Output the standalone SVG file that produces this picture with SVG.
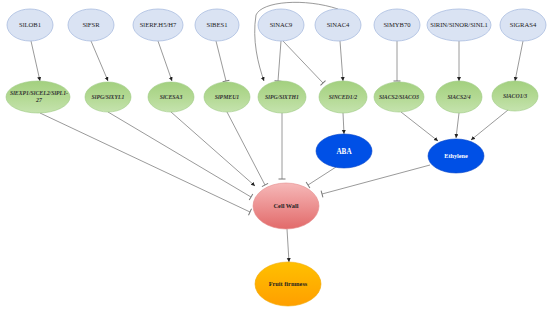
<svg xmlns="http://www.w3.org/2000/svg" width="550" height="310" viewBox="0 0 550 310">
<defs>
<linearGradient id="gGreen" x1="0" y1="0" x2="0" y2="1">
<stop offset="0" stop-color="#a3d07f"/><stop offset="0.5" stop-color="#b3d993"/><stop offset="1" stop-color="#c5e3ae"/>
</linearGradient>
<linearGradient id="gRed" x1="0" y1="0" x2="0" y2="1">
<stop offset="0" stop-color="#f6b8b8"/><stop offset="1" stop-color="#e26a6a"/>
</linearGradient>
<linearGradient id="gOrange" x1="0" y1="0" x2="0" y2="1">
<stop offset="0" stop-color="#ffc000"/><stop offset="1" stop-color="#ff9f00"/>
</linearGradient>
<marker id="arr" markerUnits="userSpaceOnUse" markerWidth="6" markerHeight="6" refX="4" refY="2" orient="auto">
<path d="M0,0 L4,2 L0,4 Z" fill="#222"/>
</marker>
<marker id="tbar" markerUnits="userSpaceOnUse" markerWidth="8" markerHeight="8" refX="1" refY="4" orient="auto">
<path d="M1,0.5 L1,7.5" stroke="#777" stroke-width="1" fill="none"/>
</marker>
</defs>
<style>
.top ellipse{fill:#dae3f3;stroke:#a9bde0;stroke-width:0.8}
.top text{font-family:"Liberation Serif",serif;font-size:6.6px;fill:#222;text-anchor:middle}
.gene ellipse{fill:url(#gGreen);stroke:#9cc982;stroke-width:0.6}
.gene text{font-family:"Liberation Serif",serif;font-size:5.8px;font-style:italic;font-weight:bold;fill:#333;text-anchor:middle}
.hor ellipse{fill:#0050e6;stroke:#0a46c8;stroke-width:0.6}
.hor text{font-family:"Liberation Serif",serif;fill:#fff;text-anchor:middle;font-weight:bold}
.out text{font-family:"Liberation Serif",serif;font-size:6.3px;fill:#222;text-anchor:middle;font-weight:bold}
#connectors path{fill:none;stroke:#808080;stroke-width:0.8}
.a{marker-end:url(#arr)}
.t{marker-end:url(#tbar)}
</style>

<g id="connectors">
<path class="a" d="M31,41 L40,81"/>
<path class="a" d="M91,41 L108,81"/>
<path class="a" d="M158,41 L172,81"/>
<path class="t" d="M216,41 L226,81"/>
<path class="t" d="M281,41 L278,81"/>
<path class="t" d="M283,41 L323,83"/>
<path class="a" d="M340,41 L343,81"/>
<path class="a" d="M338,9 C305,-2 262,1 256,15 C252,40 258,64 264,81"/>
<path class="t" d="M397,41 L397,81"/>
<path class="a" d="M459,41 L459,81"/>
<path class="a" d="M523,41 L515,81"/>
<path class="t" d="M40,113 L250,212"/>
<path class="t" d="M108,112 L251,197"/>
<path class="a" d="M171,112 L255,186"/>
<path class="t" d="M227,112 L265,185"/>
<path class="t" d="M282,113 L282,179"/>
<path class="a" d="M343,113 L344,134"/>
<path class="a" d="M401,112 L438,141"/>
<path class="a" d="M459,113 L456,138"/>
<path class="a" d="M508,110 L471,140"/>
<path class="t" d="M336,167 L308,185"/>
<path class="t" d="M430,165 L322,194"/>
<path class="a" d="M287,229 L289,262"/>
</g>

<g id="n-sllob1" class="top"><ellipse cx="30" cy="25" rx="23" ry="16"/><text x="30" y="27">SlLOB1</text></g>
<g id="n-slfsr" class="top"><ellipse cx="91" cy="25" rx="23" ry="16"/><text x="91" y="27">SlFSR</text></g>
<g id="n-slerf" class="top"><ellipse cx="158" cy="25" rx="25" ry="16"/><text x="158" y="27">SlERF.H5/H7</text></g>
<g id="n-slbes1" class="top"><ellipse cx="217" cy="25" rx="22" ry="16"/><text x="217" y="27">SlBES1</text></g>
<g id="n-slnac9" class="top"><ellipse cx="281" cy="25" rx="23" ry="16"/><text x="281" y="27">SlNAC9</text></g>
<g id="n-slnac4" class="top"><ellipse cx="338" cy="25" rx="23" ry="16"/><text x="338" y="27">SlNAC4</text></g>
<g id="n-slmyb70" class="top"><ellipse cx="397" cy="25" rx="23" ry="16"/><text x="397" y="27">SlMYB70</text></g>
<g id="n-slrin" class="top"><ellipse cx="459" cy="25" rx="32" ry="16"/><text x="459" y="27">SlRIN/SlNOR/SlNL1</text></g>
<g id="n-slgras4" class="top"><ellipse cx="523" cy="25" rx="23" ry="16"/><text x="523" y="27">SlGRAS4</text></g>

<g id="n-slexp1" class="gene"><ellipse cx="38" cy="97" rx="32" ry="16"/><text x="39" y="95">SlEXP1/SlCEL2/SlPL1-</text><text x="39" y="101.5">27</text></g>
<g id="n-slpgxyl1" class="gene"><ellipse cx="108" cy="97" rx="23" ry="15"/><text x="108" y="99">SlPG/SlXYL1</text></g>
<g id="n-slcesa3" class="gene"><ellipse cx="171" cy="97" rx="23" ry="15"/><text x="171" y="99">SlCESA3</text></g>
<g id="n-slpmeu1" class="gene"><ellipse cx="227" cy="97" rx="23" ry="15"/><text x="227" y="99">SlPMEU1</text></g>
<g id="n-slpgxth1" class="gene"><ellipse cx="282" cy="97" rx="24" ry="16"/><text x="282" y="99">SlPG/SlXTH1</text></g>
<g id="n-slnced" class="gene"><ellipse cx="343" cy="97" rx="24" ry="16"/><text x="343" y="99">SlNCED1/2</text></g>
<g id="n-slacs2aco3" class="gene"><ellipse cx="399" cy="97" rx="25" ry="15"/><text x="399" y="99">SlACS2/SlACO3</text></g>
<g id="n-slacs24" class="gene"><ellipse cx="459" cy="97" rx="23" ry="16"/><text x="459" y="99">SlACS2/4</text></g>
<g id="n-slaco13" class="gene"><ellipse cx="515" cy="96" rx="23" ry="15"/><text x="515" y="98">SlACO1/3</text></g>

<g id="n-aba" class="hor"><ellipse cx="344" cy="151" rx="28" ry="17"/><text x="344" y="153.5" font-size="7.2">ABA</text></g>
<g id="n-ethylene" class="hor"><ellipse cx="456" cy="156" rx="28" ry="17"/><text x="456" y="158" font-size="6.2">Ethylene</text></g>

<g id="n-cellwall" class="out"><ellipse cx="286" cy="206" rx="33" ry="23" fill="url(#gRed)" stroke="#e48c8c" stroke-width="0.6"/><text x="286" y="208">Cell Wall</text></g>
<g id="n-fruit" class="out"><ellipse cx="288" cy="284" rx="33" ry="22" fill="url(#gOrange)" stroke="#f0a800" stroke-width="0.6"/><text x="288" y="286">Fruit firmness</text></g>
</svg>
